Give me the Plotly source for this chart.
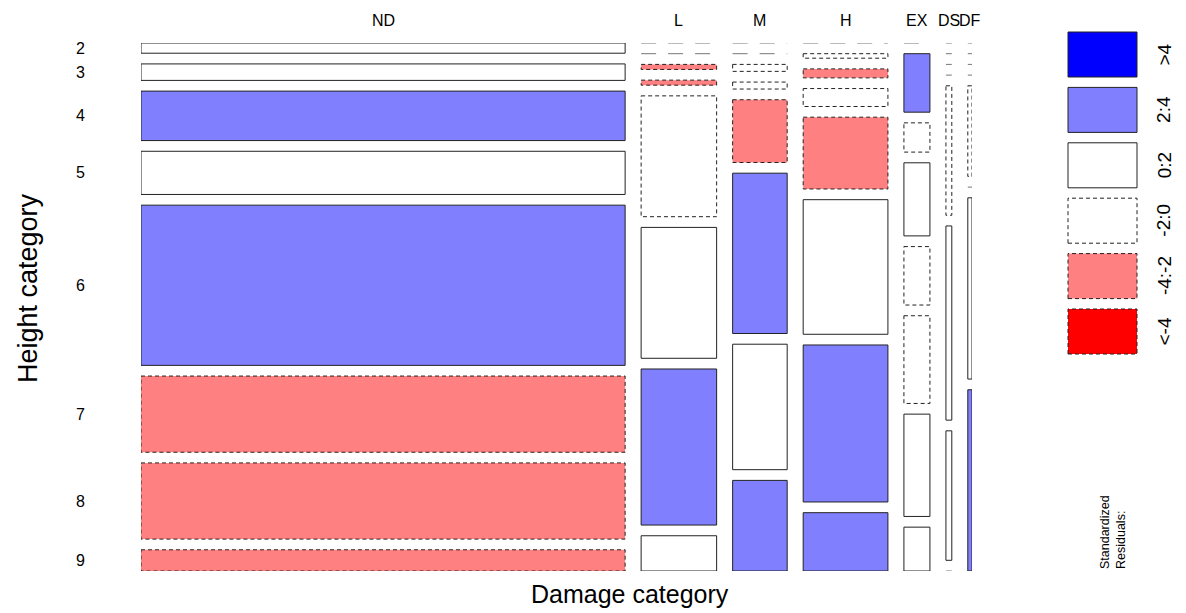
import numpy as np
import plotly.graph_objects as go

# ---------------- data ----------------
damage = ["ND", "L", "M", "H", "EX", "DS", "DF"]
heights = ["2", "3", "4", "5", "6", "7", "8", "9"]
counts_ND = [13, 21, 63, 55, 204, 97, 97, 27]
counts_L = [0, 0, 1, 1, 24, 26, 31, 7]
counts_M = [0, 0, 1, 1, 9, 23, 18, 13]
counts_H = [0, 1, 2, 4, 16, 30, 35, 13]
counts_EX = [0, 4, 2, 5, 4, 6, 7, 3]
counts_DS = [0, 0, 0, 0, 2, 3, 2, 0]
counts_DF = [0, 0, 0, 0, 1, 0, 2, 2]
legend_labels = [">4", "2:4", "0:2", "-2:0", "-4:-2", "<-4"]

# ---------------- styling / layout constants ----------------
OFF = 8                                   # default page body margin
W, H = 1186 - OFF, 613 - OFF
PX0, PX1, PY0, PY1 = 141, 972, 43, 571    # mosaic area in screen pixels
GAP_X = 16 / (PX1 - PX0)
GAP_Y = 10.7 / (PY1 - PY0)
FONT = "Liberation Sans, Arial, sans-serif"
BORDER = "#222222"
ZERO_COL = "#777777"
SHADE = [  # (fill, dashed) for classes >4, 2:4, 0:2, -2:0, -4:-2, <-4
    ("#0000FF", False), ("#8080FF", False), ("#FFFFFF", False),
    ("#FFFFFF", True), ("#FF8080", True), ("#FF0000", True)]
DASH = "4px,3px"


def pxx(px):
    return (px - PX0) / (PX1 - PX0)


def pxy(py):
    return (PY1 - py) / (PY1 - PY0)


table = np.array([counts_ND, counts_L, counts_M, counts_H,
                  counts_EX, counts_DS, counts_DF], dtype=float)  # cols x rows
N = table.sum()
col_tot = table.sum(axis=1)
row_tot = table.sum(axis=0)
expected = np.outer(col_tot, row_tot) / N
resid = (table - expected) / np.sqrt(expected)


def shade_class(r):
    if r > 4:
        return 0
    if r > 2:
        return 1
    if r > 0:
        return 2
    if r >= -2:
        return 3
    if r >= -4:
        return 4
    return 5


shapes = []
annotations = []

nc, nr = table.shape
avail_x = 1 - (nc - 1) * GAP_X
avail_y = 1 - (nr - 1) * GAP_Y
x = 0.0
for i in range(nc):
    w = avail_x * col_tot[i] / N
    y = 0.0
    for j in range(nr):
        h = avail_y * table[i, j] / col_tot[i]
        cls = shade_class(resid[i, j])
        fill, dashed = SHADE[cls]
        if table[i, j] == 0:
            shapes.append(dict(type="line", xref="x", yref="y", x0=x, x1=x + w,
                               y0=y, y1=y,
                               line=dict(color=ZERO_COL, width=1, dash="15px,12px")))
        else:
            shapes.append(dict(type="rect", xref="x", yref="y", x0=x, x1=x + w,
                               y0=y, y1=y + h, fillcolor=fill,
                               line=dict(color=BORDER, width=1,
                                         dash=DASH if dashed else "solid")))
        if i == 0:
            annotations.append(dict(x=pxx(80), y=y + h / 2, xref="paper", yref="y",
                                    text=heights[j], showarrow=False,
                                    font=dict(family=FONT, size=16, color="black"),
                                    xanchor="center", yanchor="middle"))
        y += h + GAP_Y
    annotations.append(dict(x=x + w / 2, y=pxy(20), xref="x", yref="paper",
                            text=damage[i], showarrow=False,
                            font=dict(family=FONT, size=16, color="black"),
                            xanchor="center", yanchor="middle"))
    x += w + GAP_X

# axis titles
annotations.append(dict(x=pxx(630), y=pxy(594), xref="paper", yref="paper",
                        text="Damage category", showarrow=False,
                        font=dict(family=FONT, size=25, color="black"),
                        xanchor="center", yanchor="middle"))
annotations.append(dict(x=pxx(28), y=pxy(288), xref="paper", yref="paper",
                        text="Height category", showarrow=False, textangle=-90,
                        font=dict(family=FONT, size=27, color="black"),
                        xanchor="center", yanchor="middle"))

# shading legend
LX0, LX1 = 1068, 1137
L_TOP, L_H, L_STEP = 32, 45, 55.4
for k, lab in enumerate(legend_labels):
    fill, dashed = SHADE[k]
    t = L_TOP + k * L_STEP
    shapes.append(dict(type="rect", xref="paper", yref="paper",
                       x0=pxx(LX0), x1=pxx(LX1), y0=pxy(t + L_H), y1=pxy(t),
                       fillcolor=fill,
                       line=dict(color=BORDER, width=1, dash=DASH if dashed else "solid")))
    annotations.append(dict(x=pxx(1164), y=pxy(t + L_H / 2), xref="paper", yref="paper",
                            text=lab, showarrow=False, textangle=-90,
                            font=dict(family=FONT, size=19, color="black"),
                            xanchor="center", yanchor="middle"))
annotations.append(dict(x=pxx(1113), y=pxy(571), xref="paper", yref="paper",
                        text="Standardized<br>Residuals:", showarrow=False,
                        textangle=-90, align="left",
                        font=dict(family=FONT, size=12.5, color="black"),
                        xanchor="center", yanchor="bottom"))

fig = go.Figure()
fig.update_layout(
    width=W, height=H,
    margin=dict(l=PX0 - OFF, r=1186 - PX1, t=PY0 - OFF, b=613 - PY1, pad=0),
    paper_bgcolor="white", plot_bgcolor="white",
    xaxis=dict(range=[0, 1], visible=False, fixedrange=True),
    yaxis=dict(range=[1, 0], visible=False, fixedrange=True),
    shapes=shapes, annotations=annotations, showlegend=False,
)
fig.write_html("out.html", config=dict(displayModeBar=False))
